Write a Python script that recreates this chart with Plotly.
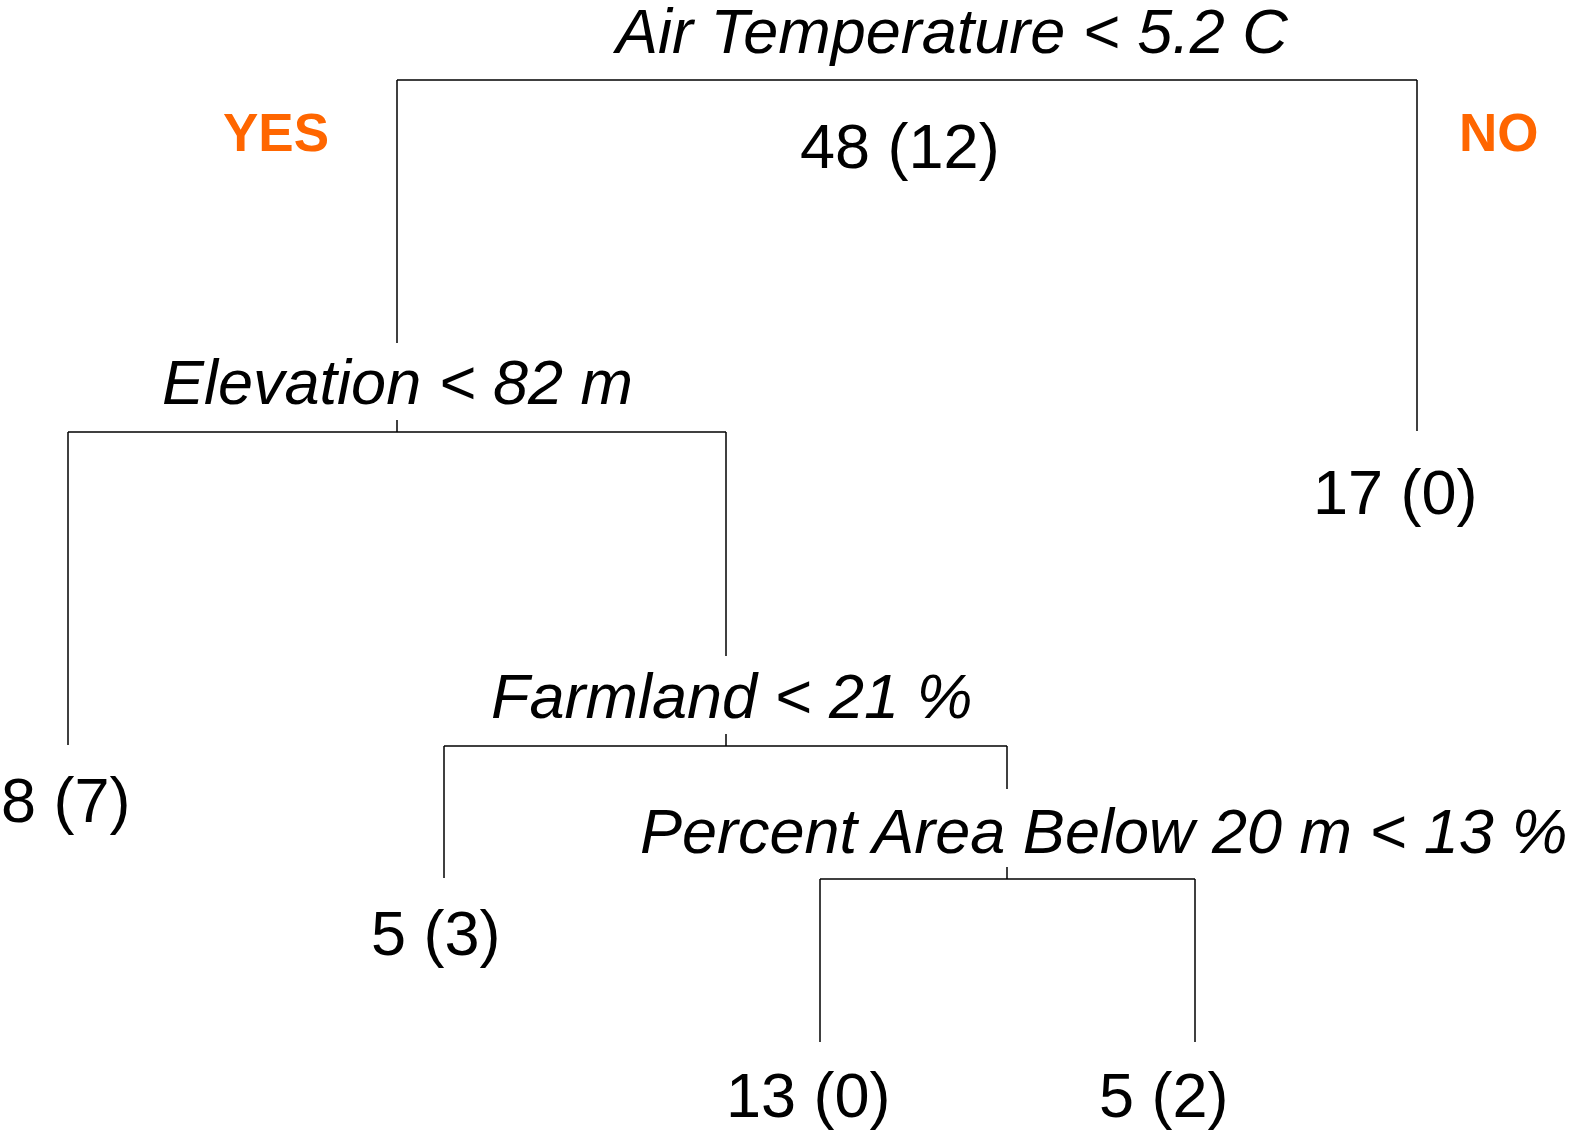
import plotly.graph_objects as go

# ---------------- data ----------------
split_labels = ["Air Temperature < 5.2 C", "Elevation < 82 m",
                "Farmland < 21 %", "Percent Area Below 20 m < 13 %"]
root_n = 48
root_misclass = 12
leaf_n = [8, 5, 13, 5, 17]
leaf_misclass = [7, 3, 0, 2, 0]
branch_labels = ["YES", "NO"]

# ---------------- layout (pixel positions in the drawing) ----------------
W, H = 1576, 1131
# split nodes: node x, horizontal bar y, stub top y, left child x, right child x,
# left child top y, right child top y
split_geom = [
    dict(x=907, bar=80, stub=None, lx=397, rx=1417, ltop=343, rtop=431),
    dict(x=397, bar=432, stub=420, lx=68, rx=726, ltop=745, rtop=656),
    dict(x=726, bar=746, stub=734, lx=444, rx=1007, ltop=878, rtop=789),
    dict(x=1007, bar=879, stub=867, lx=820, rx=1195, ltop=1042, rtop=1042),
]
split_label_pos = [(950, 30.5), (397, 381.5), (731, 696), (1103, 830.5)]
root_summary_pos = (900, 146)
leaf_label_pos = [(66, 799.5), (436, 932.5), (808, 1094.5), (1164, 1094.5), (1395, 492)]
branch_label_pos = [(276, 132.5), (1499, 132.5)]

FONT = "Liberation Sans, Arial, Helvetica, sans-serif"
FS = 63
LINE_W = 1.5
ORANGE = "#FF6600"

fig = go.Figure()

xs, ys = [], []
for g in split_geom:
    xs += [g["lx"], g["rx"], None]
    ys += [g["bar"], g["bar"], None]
    xs += [g["lx"], g["lx"], None, g["rx"], g["rx"], None]
    ys += [g["bar"], g["ltop"], None, g["bar"], g["rtop"], None]
    if g["stub"] is not None:
        xs += [g["x"], g["x"], None]
        ys += [g["stub"], g["bar"], None]

fig.add_trace(go.Scatter(x=xs, y=ys, mode="lines",
                         line=dict(color="black", width=LINE_W),
                         hoverinfo="skip", showlegend=False))

annotations = []
for lab, (x, y) in zip(split_labels, split_label_pos):
    annotations.append(dict(x=x, y=y, text=f"<i>{lab}</i>", showarrow=False,
                            xanchor="center", yanchor="middle",
                            font=dict(family=FONT, size=FS, color="black")))
annotations.append(dict(x=root_summary_pos[0], y=root_summary_pos[1],
                        text=f"{root_n} ({root_misclass})", showarrow=False,
                        xanchor="center", yanchor="middle",
                        font=dict(family=FONT, size=FS, color="black")))
for n, m, (x, y) in zip(leaf_n, leaf_misclass, leaf_label_pos):
    annotations.append(dict(x=x, y=y, text=f"{n} ({m})", showarrow=False,
                            xanchor="center", yanchor="middle",
                            font=dict(family=FONT, size=FS, color="black")))
for lab, (x, y) in zip(branch_labels, branch_label_pos):
    annotations.append(dict(x=x, y=y, text=f"<b>{lab}</b>", showarrow=False,
                            xanchor="center", yanchor="middle",
                            font=dict(family=FONT, size=53, color=ORANGE)))

fig.update_layout(
    width=W, height=H,
    margin=dict(l=0, r=0, t=0, b=0),
    paper_bgcolor="white", plot_bgcolor="white",
    xaxis=dict(range=[0, W], visible=False, fixedrange=True),
    yaxis=dict(range=[H, 0], visible=False, fixedrange=True),
    annotations=annotations,
    showlegend=False,
)

fig.write_html(
    "out.html",
    config=dict(displayModeBar=False),
    post_script="document.body.style.margin='0';document.body.style.overflow='hidden';",
)
